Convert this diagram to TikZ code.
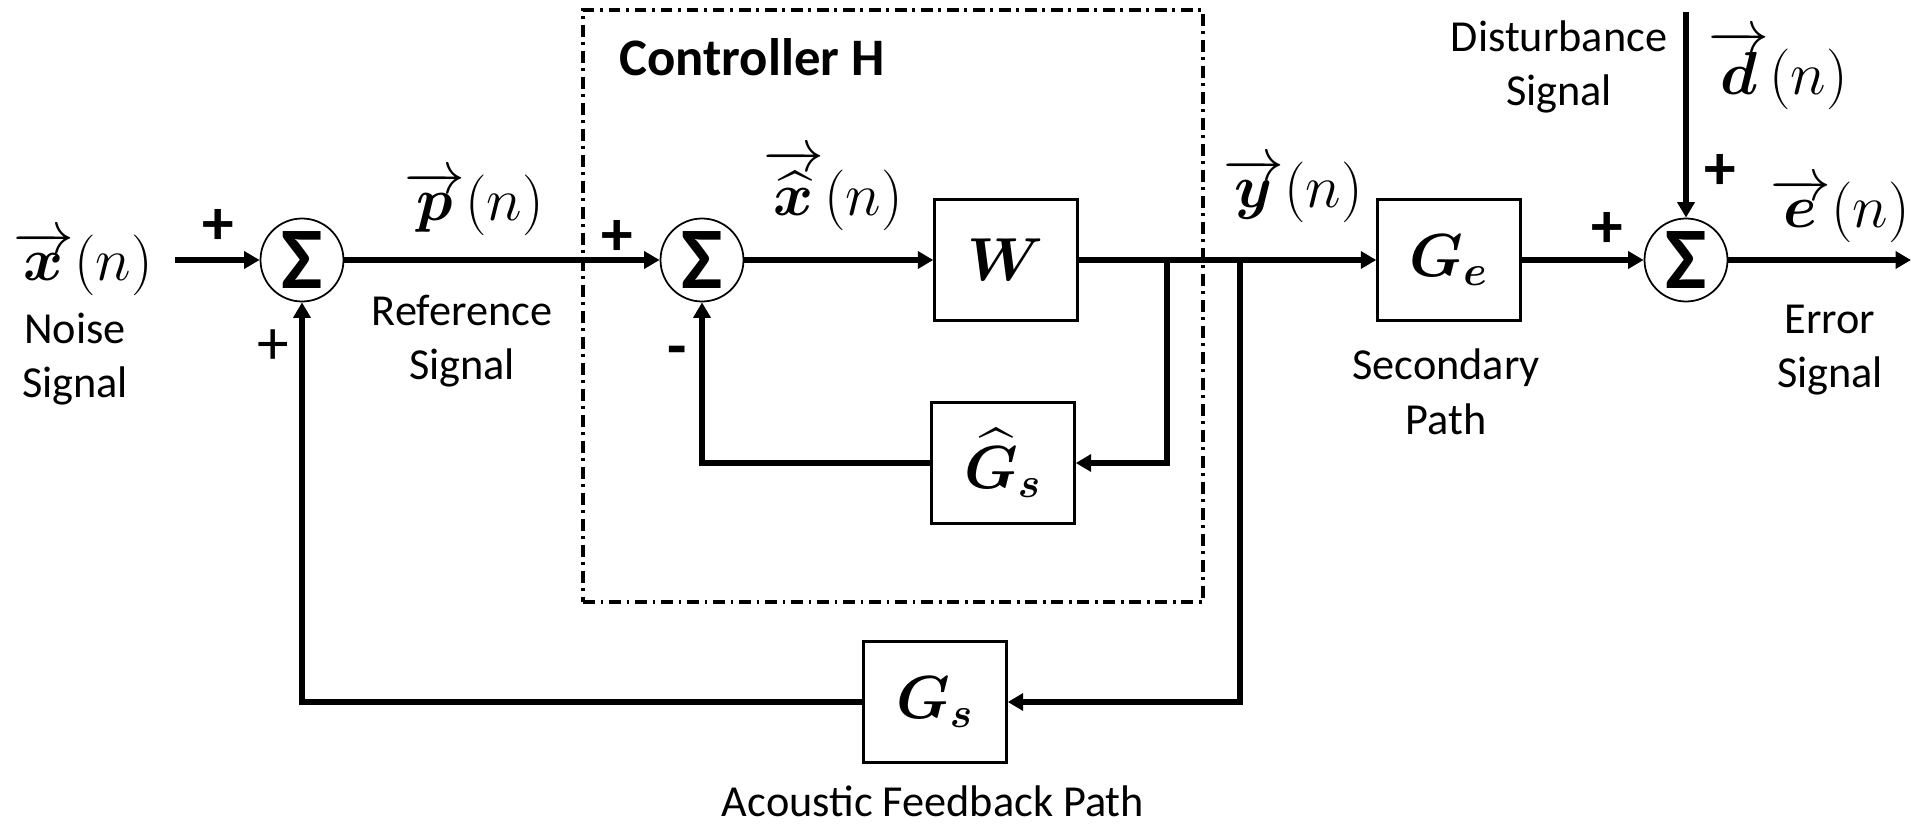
\documentclass[tikz,border=0pt]{standalone}
\usepackage{amsmath,bm}
\usepackage[no-math]{fontspec}
\setmainfont{Carlito}
\usepackage{tikz}
\usetikzlibrary{arrows.meta,positioning}

\begin{document}
\begin{tikzpicture}[
  line/.style={line width=1.7pt},
  sig/.style={line width=1.7pt, -{Triangle[length=4.4pt,width=4.8pt]}},
  block/.style={draw, line width=0.7pt, minimum width=1.43cm, minimum height=1.21cm, inner sep=0pt, font=\fontsize{18}{21}\selectfont},
  sumnode/.style={draw, circle, line width=0.5pt, minimum size=0.83cm, inner sep=0pt, font=\fontsize{25}{25}\selectfont\bfseries},
  ctrlbox/.style={draw, line width=0.9pt, dash pattern=on 3.4pt off 1.6pt on 0.8pt off 1.6pt},
  caption/.style={align=center, font=\fontsize{12.6}{15.5}\selectfont},
  signame/.style={font=\fontsize{18}{20}\selectfont},
  sign/.style={font=\fontsize{18}{18}\selectfont\bfseries}
]
  \useasboundingbox (0,0) rectangle (19.11,8.25);

  \node[ctrlbox, minimum width=6.2cm, minimum height=5.92cm] (ctrl) at (8.93,5.19) {};
  \node[anchor=west, font=\fontsize{15}{18}\selectfont\bfseries] (ctrltitle) at (6.07,7.68) {Controller H};

  \node[sumnode] (sum1) at (3.02,5.65) {Σ};
  \node[sumnode] (sum2) at (7.02,5.65) {Σ};
  \node[sumnode] (sum3) at (16.86,5.65) {Σ};
  \node[block] (w) at (10.06,5.65) {$\bm{W}$};
  \node[block] (gsh) at (10.03,3.62) {$\widehat{\bm{G}}_{\bm{s}}$};
  \node[block] (ge) at (14.49,5.65) {$\bm{G_e}$};
  \node[block] (gs) at (9.35,1.23) {$\bm{G_s}$};

  \coordinate (in) at (1.75,5.65);
  \coordinate (b1) at (11.67,5.65);
  \coordinate (b2) at (12.40,5.65);
  \coordinate (dtop) at (16.86,8.13);
  \coordinate (out) at (19.11,5.65);

  \draw[sig] (in) -- (sum1.west);
  \draw[sig] (sum1.east) -- (sum2.west);
  \draw[sig] (sum2.east) -- (w.west);
  \draw[sig] (w.east) -- (ge.west);
  \draw[sig] (b1) |- (gsh.east);
  \draw[sig] (gsh.west) -| (sum2.south);
  \draw[sig] (b2) |- (gs.east);
  \draw[sig] (gs.west) -| (sum1.south);
  \draw[sig] (ge.east) -- (sum3.west);
  \draw[sig] (dtop) -- (sum3.north);
  \draw[sig] (sum3.east) -- (out);

  \node[signame] (xlbl) at (0.83,5.62) {$\overrightarrow{\bm{x}}(n)$};
  \node[caption] (noise) at (0.75,4.66) {Noise\\Signal};
  \node[signame] (plbl) at (4.74,6.22) {$\overrightarrow{\bm{p}}(n)$};
  \node[caption] (refsig) at (4.62,4.84) {Reference\\Signal};
  \node[signame] (xhlbl) at (8.33,6.35) {$\overrightarrow{\widehat{\bm{x}}}(n)$};
  \node[signame] (ylbl) at (12.93,6.35) {$\overrightarrow{\bm{y}}(n)$};
  \node[caption] (secpath) at (14.46,4.33) {Secondary\\Path};
  \node[caption] (dist) at (15.59,7.58) {Disturbance\\Signal};
  \node[signame] (dlbl) at (17.78,7.55) {$\overrightarrow{\bm{d}}(n)$};
  \node[signame] (elbl) at (18.40,6.15) {$\overrightarrow{\bm{e}}(n)$};
  \node[caption] (errsig) at (18.30,4.75) {Error\\Signal};
  \node[caption] (fbpath) at (9.33,0.24) {Acoustic Feedback Path};

  \node[sign] (p1) at (2.18,5.98) {+};
  \node[font=\fontsize{18}{18}\selectfont] (p2) at (2.73,4.78) {+};
  \node[sign] (p3) at (6.17,5.87) {+};
  \node[sign] (m1) at (6.77,4.68) {-};
  \node[sign] (p4) at (16.07,5.95) {+};
  \node[sign] (p5) at (17.20,6.53) {+};
\end{tikzpicture}
\end{document}
